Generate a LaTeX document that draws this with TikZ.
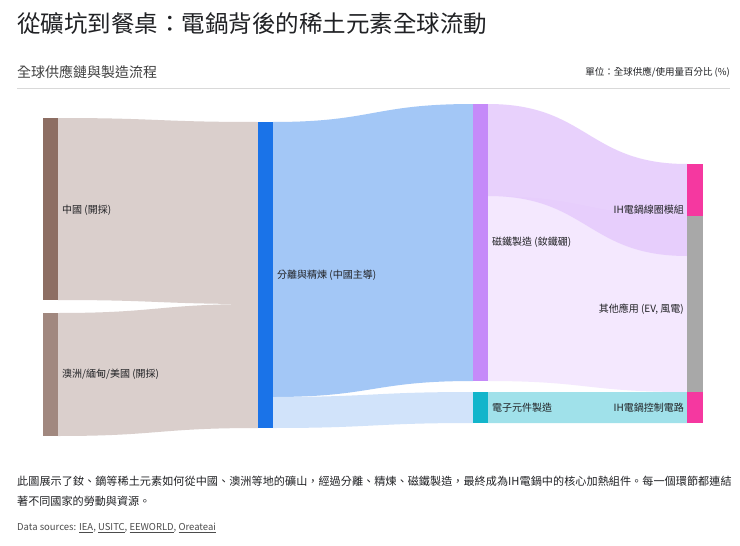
\documentclass[tikz,border=0pt]{standalone}
\usepackage{fontspec}
\setmainfont{Noto Sans CJK TC}
\XeTeXlinebreaklocale "zh"
\XeTeXlinebreakskip=0pt plus 1pt
\usetikzlibrary{positioning}
\definecolor{cn}{HTML}{8D6E63}
\definecolor{au}{HTML}{A1887F}
\definecolor{sep}{HTML}{1A73E8}
\definecolor{mag}{HTML}{C58AF9}
\definecolor{ele}{HTML}{12B5CB}
\definecolor{ih}{HTML}{F538A0}
\definecolor{oth}{HTML}{A8A8A8}
\definecolor{txt}{HTML}{202124}
\newcommand{\band}[7]{% color, x1, y1a, y1b, x2, y2a, y2b
  \fill[#1] (#2,#3) .. controls ({(#2+#5)/2},#3) and ({(#2+#5)/2},#6) .. (#5,#6)
    -- (#5,#7) .. controls ({(#2+#5)/2},#7) and ({(#2+#5)/2},#4) .. (#2,#4) -- cycle;}
\begin{document}
\begin{tikzpicture}[x=1pt,y=-1pt,
  lbl/.style={font=\fontsize{10}{12}\selectfont,text=txt,inner sep=0pt}]
\useasboundingbox[fill=white] (0,0) rectangle (740,546);
\node[anchor=west,font=\fontsize{23.5}{26}\selectfont,text=txt,inner sep=0pt] (title) at (17,24) {從礦坑到餐桌：電鍋背後的稀土元素全球流動};
\node[anchor=west,font=\fontsize{14}{16}\selectfont,text=black!75,inner sep=0pt] (sub) at (17,72) {全球供應鏈與製造流程};
\node[anchor=east,font=\fontsize{9.5}{11}\selectfont,text=txt,inner sep=0pt] (unit) at (730,72) {單位：全球供應/使用量百分比 (\%)};
\draw[black!15] (17,88) -- (730,88);
% links
\band{au!40}{58}{118}{300}{258}{122}{304}
\band{au!40}{58}{313}{436}{258}{304}{428}
\band{sep!40}{273}{122}{397}{473}{104}{381}
\band{sep!20}{273}{397}{428}{473}{392}{423}
\band{mag!20}{488}{196}{381}{687}{216}{392}
\band{mag!45,opacity=0.85}{488}{104}{196}{687}{164}{256}
\band{ele!40}{488}{392}{423}{687}{392}{423}
% nodes
\fill[cn] (43,118) rectangle (58,300);
\fill[au] (43,313) rectangle (58,436);
\fill[sep] (258,122) rectangle (273,428);
\fill[mag] (473,104) rectangle (488,381);
\fill[ele] (473,392) rectangle (488,423);
\fill[ih] (687,164) rectangle (703,216);
\fill[oth] (687,216) rectangle (703,392);
\fill[ih] (687,392) rectangle (703,423);
\node[lbl,anchor=west] (l1) at (62,210) {中國 (開採)};
\node[lbl,anchor=west] (l2) at (62,374) {澳洲/緬甸/美國 (開採)};
\node[lbl,anchor=west] (l3) at (277,275) {分離與精煉 (中國主導)};
\node[lbl,anchor=west] (l4) at (492,242) {磁鐵製造 (釹鐵硼)};
\node[lbl,anchor=west] (l5) at (492,408) {電子元件製造};
\node[lbl,anchor=east] (l6) at (684,210) {IH電鍋線圈模組};
\node[lbl,anchor=east] (l7) at (684,309) {其他應用 (EV, 風電)};
\node[lbl,anchor=east] (l8) at (684,408) {IH電鍋控制電路};
\node[anchor=north west,align=left,font=\fontsize{11.1}{19.5}\selectfont,text=txt,inner sep=0pt,text width=716pt] (foot) at (17,476) {此圖展示了釹、鏑等稀土元素如何從中國、澳洲等地的礦山，經過分離、精煉、磁鐵製造，最終成為IH電鍋中的核心加熱組件。每一個環節都連結著不同國家的勞動與資源。};
\node[anchor=west,font=\fontsize{9.5}{11}\selectfont,text=black!70,inner sep=0pt] (src) at (17,528) {Data sources: \underline{IEA}, \underline{USITC}, \underline{EEWORLD}, \underline{Oreateai}};
\end{tikzpicture}
\end{document}
